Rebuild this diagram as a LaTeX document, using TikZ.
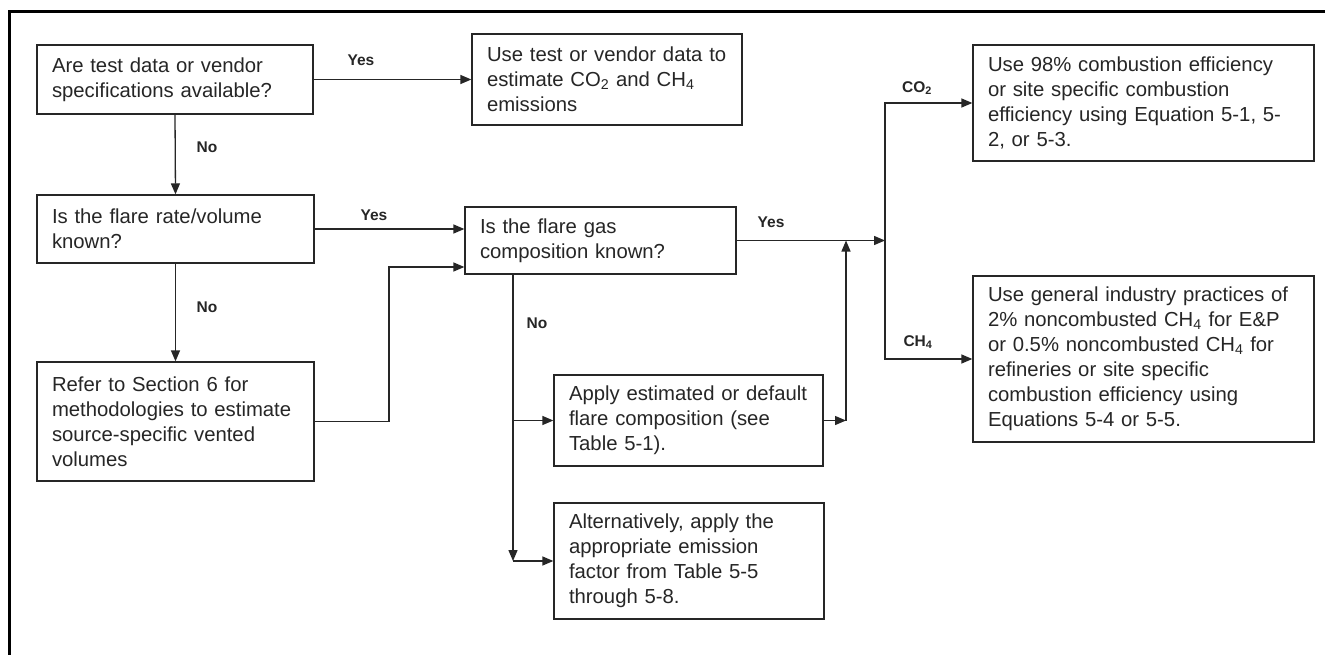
\documentclass[tikz,border=0pt]{standalone}
\usepackage{fontspec}
\setmainfont{Liberation Sans}
\usetikzlibrary{arrows.meta}
\begin{document}
\begin{tikzpicture}[x=1pt,y=-1pt,
  box/.style={draw=black!85, line width=1.3pt, inner xsep=15pt, inner ysep=0pt,
    align=left, text=black!85, font=\fontsize{20.3}{25}\selectfont},
  conn/.style={draw=black!85, line width=1.3pt},
  arr/.style={conn, -{Triangle[length=11pt,width=9pt]}},
  lbl/.style={font=\fontsize{15.5}{18}\selectfont\bfseries, text=black!85, inner sep=0pt}
]
\useasboundingbox (0,0) rectangle (1325,654);
\fill[white] (0,0) rectangle (1325,654);
% frame
\draw[line width=3pt, line cap=rect] (9,654) -- (9,11) -- (1325,11);

\node[box, minimum width=276pt, minimum height=69pt, text width=246pt] (b1) at (175,79.5)
  {\mbox{Are test data or vendor}\\\mbox{specifications available?}};
\node[box, minimum width=270pt, minimum height=91pt, text width=240pt] (b2) at (607,79.5)
  {\mbox{Use test or vendor data to}\\\mbox{estimate CO\textsubscript{2} and CH\textsubscript{4}}\\emissions};
\node[box, minimum width=341pt, minimum height=116pt, text width=311pt] (b3) at (1143.5,103)
  {\mbox{Use 98\% combustion efficiency}\\\mbox{or site specific combustion}\\\mbox{efficiency using Equation 5-1, 5-}\\2, or 5-3.};
\node[box, minimum width=277pt, minimum height=68pt, text width=247pt] (b4) at (175.5,229)
  {Is the flare rate/volume\\known?};
\node[box, minimum width=277pt, minimum height=119pt, text width=247pt] (b5) at (175.5,421.5)
  {\mbox{Refer to Section 6 for}\\\mbox{methodologies to estimate}\\\mbox{source-specific vented}\\volumes};
\node[box, minimum width=271pt, minimum height=67pt, text width=241pt] (b6) at (600.5,240.5)
  {Is the flare gas\\\mbox{composition known?}};
\node[box, minimum width=269pt, minimum height=91pt, text width=239pt] (b7) at (688.5,420.5)
  {\mbox{Apply estimated or default}\\\mbox{flare composition (see}\\Table 5-1).};
\node[box, minimum width=270pt, minimum height=116pt, text width=240pt] (b8) at (689,561)
  {\mbox{Alternatively, apply the}\\\mbox{appropriate emission}\\\mbox{factor from Table 5-5}\\through 5-8.};
\node[box, minimum width=341pt, minimum height=166pt, text width=311pt] (b9) at (1143.5,359)
  {\mbox{Use general industry practices of}\\\mbox{2\% noncombusted CH\textsubscript{4} for E\&P}\\\mbox{or 0.5\% noncombusted CH\textsubscript{4} for}\\\mbox{refineries or site specific}\\\mbox{combustion efficiency using}\\Equations 5-4 or 5-5.};

% junction coordinates
\coordinate (j1) at (389,267);
\coordinate (split) at (885,240.5);
\coordinate (nstart) at (513,274);
\coordinate (up) at (846,420.5);

% connectors
\draw[arr] (b1.east) -- (b2.west);
\draw[arr] (b1.south) -- (b4.north);
\draw[arr] (b4.east) -- (b4.east -| b6.west);
\draw[arr] (b4.south) -- (b5.north);
\draw[arr] (b5.east) -| (j1) -- (j1 -| b6.west);
\draw[arr] (b6.east) -- (split);
\draw[arr] (split) |- (b3.west);
\draw[arr] (split) |- (b9.west);
\draw[arr] (nstart) -- (nstart |- b8.west);
\draw[arr] (nstart |- b8.west) -- (b8.west);
\draw[arr] (nstart |- b7.west) -- (b7.west);
\draw[arr] (b7.east) -- (up);
\draw[arr] (up) -- (up |- b6.east);

% labels
\node[lbl] (y1) at (361,60) {Yes};
\node[lbl] (n1) at (207,147) {No};
\node[lbl] (y2) at (374,215) {Yes};
\node[lbl] (n2) at (207,307) {No};
\node[lbl] (y3) at (771,222) {Yes};
\node[lbl] (n3) at (537,323) {No};
\node[lbl] (co2) at (917,88) {CO\textsubscript{2}};
\node[lbl] (ch4) at (918,342) {CH\textsubscript{4}};
\end{tikzpicture}
\end{document}
